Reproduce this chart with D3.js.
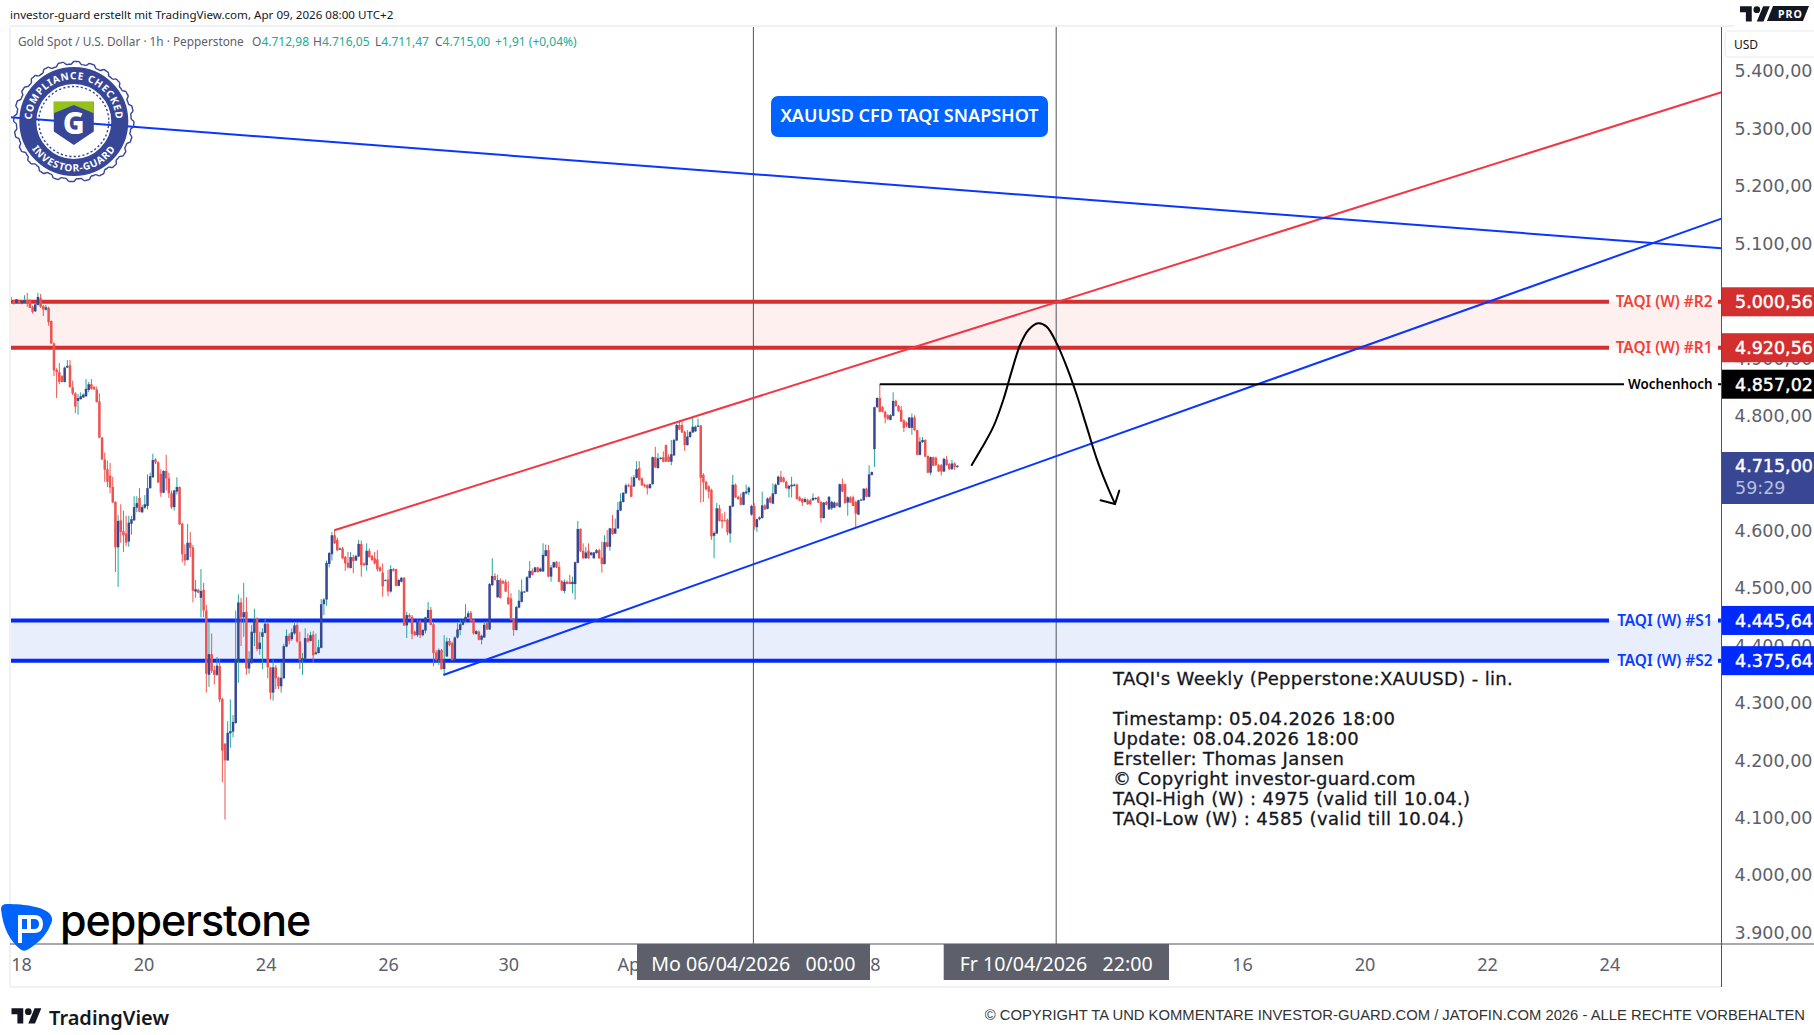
<!DOCTYPE html>
<html>
<head>
<meta charset="utf-8">
<title>XAUUSD</title>
<script src="https://cdn.jsdelivr.net/npm/d3@7"></script>
<style>
  html, body { margin: 0; padding: 0; background: #fff; }
  svg { display: block; }
  text { font-family: "Noto Sans", sans-serif; }
</style>
</head>
<body>
<div id="chart"></div>
<script>
// hourly candles, [open, high, low, close]
var candles = [
  [5000,5009,4999,5002],[5002,5004,4996,4998],[4998,5005,4997,5005],[5002,5004,4997,4998],[4998,5003,4996,5002],
  [4999,5012,4998,5003],[5004,5016,4992,4998],[5003,5005,4990,4990],[4992,4994,4980,4983],[4984,4998,4983,4996],
  [4995,5016,4994,5009],[5007,5014,4990,4992],[4993,4995,4976,4987],[4987,4995,4985,4991],[4990,4992,4959,4965],
  [4967,4968,4927,4928],[4928,4930,4871,4881],[4882,4885,4833,4878],[4878,4894,4857,4861],[4871,4873,4860,4861],
  [4861,4888,4860,4886],[4886,4899,4885,4889],[4890,4899,4851,4852],[4852,4863,4838,4841],[4841,4843,4807,4818],
  [4828,4840,4804,4833],[4831,4843,4830,4836],[4834,4841,4833,4839],[4836,4866,4835,4849],[4847,4861,4843,4857],
  [4857,4866,4848,4849],[4852,4854,4847,4848],[4848,4853,4825,4826],[4827,4841,4763,4764],[4764,4765,4725,4726],
  [4726,4738,4687,4708],[4709,4724,4678,4687],[4698,4720,4667,4677],[4678,4696,4650,4651],[4652,4653,4530,4573],
  [4573,4629,4504,4619],[4620,4648,4581,4600],[4601,4637,4565,4594],[4597,4628,4575,4581],[4583,4628,4574,4616],
  [4614,4628,4595,4622],[4620,4662,4619,4643],[4642,4662,4634,4650],[4659,4676,4634,4635],[4634,4647,4633,4643],
  [4642,4664,4640,4648],[4645,4700,4639,4676],[4676,4703,4675,4697],[4695,4736,4694,4725],[4726,4728,4718,4721],
  [4721,4723,4685,4686],[4701,4709,4661,4668],[4668,4707,4667,4706],[4706,4734,4672,4693],[4693,4703,4659,4667],
  [4667,4672,4640,4643],[4643,4673,4637,4672],[4670,4695,4665,4678],[4678,4679,4612,4613],[4614,4616,4547,4561],
  [4561,4578,4541,4550],[4551,4614,4550,4581],[4581,4600,4556,4572],[4573,4577,4477,4497],[4496,4516,4485,4500],
  [4499,4501,4493,4494],[4485,4535,4451,4497],[4499,4511,4451,4463],[4463,4473,4320,4353],[4351,4441,4330,4387],
  [4387,4423,4354,4358],[4359,4367,4334,4351],[4351,4382,4349,4367],[4366,4379,4303,4308],[4309,4311,4164,4219],
  [4231,4232,4099,4202],[4202,4270,4201,4250],[4249,4308,4224,4253],[4252,4281,4242,4269],[4267,4463,4266,4377],
  [4376,4491,4337,4477],[4477,4485,4401,4451],[4451,4511,4417,4460],[4461,4486,4351,4362],[4362,4392,4353,4373],
  [4372,4438,4370,4426],[4424,4466,4401,4448],[4449,4451,4392,4396],[4396,4426,4386,4407],[4417,4432,4361,4425],
  [4424,4449,4423,4440],[4440,4441,4345,4364],[4364,4365,4308,4320],[4320,4378,4306,4364],[4364,4368,4326,4345],
  [4346,4348,4326,4331],[4331,4373,4320,4346],[4345,4405,4344,4401],[4400,4430,4399,4419],[4419,4423,4404,4410],
  [4413,4432,4410,4425],[4423,4441,4421,4437],[4438,4441,4407,4409],[4409,4426,4361,4377],[4377,4389,4351,4380],
  [4379,4432,4378,4415],[4415,4423,4407,4409],[4410,4426,4409,4420],[4421,4427,4372,4385],[4387,4423,4386,4390],
  [4389,4412,4388,4399],[4398,4483,4397,4474],[4474,4485,4455,4482],[4482,4550,4471,4546],[4544,4565,4538,4563],
  [4561,4600,4550,4594],[4594,4603,4579,4580],[4586,4590,4566,4568],[4569,4573,4568,4571],[4571,4574,4552,4554],
  [4556,4558,4532,4545],[4546,4565,4536,4538],[4537,4565,4536,4556],[4556,4560,4528,4549],[4550,4560,4549,4558],
  [4557,4586,4556,4579],[4579,4585,4522,4542],[4545,4547,4540,4542],[4542,4580,4532,4567],[4567,4571,4555,4556],
  [4558,4560,4549,4551],[4554,4565,4543,4545],[4552,4568,4531,4535],[4538,4540,4530,4532],[4529,4545,4487,4505],
  [4515,4517,4514,4516],[4517,4534,4488,4496],[4496,4542,4494,4535],[4535,4537,4531,4532],[4535,4536,4505,4506],
  [4506,4518,4505,4516],[4513,4521,4512,4520],[4520,4521,4436,4437],[4437,4461,4415,4455],[4455,4458,4450,4451],
  [4452,4455,4413,4422],[4426,4428,4419,4420],[4420,4447,4417,4444],[4444,4447,4415,4420],[4420,4431,4418,4429],
  [4428,4452,4423,4451],[4450,4478,4449,4464],[4464,4469,4437,4438],[4439,4441,4366,4389],[4390,4394,4374,4377],
  [4377,4397,4368,4394],[4394,4396,4360,4361],[4361,4420,4351,4378],[4383,4416,4382,4409],[4410,4415,4401,4403],
  [4406,4409,4375,4377],[4377,4418,4376,4416],[4416,4441,4414,4430],[4429,4447,4420,4439],[4438,4447,4437,4445],
  [4444,4474,4443,4452],[4451,4462,4450,4458],[4459,4462,4443,4444],[4447,4448,4421,4423],[4422,4429,4421,4427],
  [4426,4428,4411,4412],[4412,4421,4404,4419],[4416,4444,4415,4438],[4441,4444,4429,4430],[4430,4511,4429,4509],
  [4507,4554,4506,4523],[4523,4528,4515,4516],[4486,4525,4485,4516],[4516,4519,4484,4485],[4514,4516,4509,4510],
  [4513,4517,4495,4496],[4486,4514,4473,4474],[4484,4493,4446,4447],[4448,4450,4419,4429],[4429,4471,4428,4469],
  [4468,4499,4467,4480],[4478,4517,4477,4496],[4495,4497,4494,4496],[4496,4523,4495,4521],[4520,4549,4519,4532],
  [4532,4536,4524,4525],[4530,4539,4529,4538],[4538,4539,4529,4530],[4531,4538,4530,4536],[4531,4580,4530,4560],
  [4558,4578,4557,4568],[4568,4577,4521,4522],[4522,4542,4513,4538],[4538,4548,4537,4547],[4548,4549,4537,4538],
  [4539,4548,4512,4513],[4514,4516,4497,4498],[4497,4517,4493,4513],[4513,4515,4509,4509],[4513,4525,4509,4509],
  [4509,4522,4493,4513],[4509,4548,4482,4547],[4546,4619,4545,4605],[4605,4606,4565,4566],[4567,4580,4553,4554],
  [4554,4574,4553,4564],[4567,4580,4553,4554],[4560,4565,4558,4564],[4554,4565,4553,4564],[4563,4570,4562,4568],
  [4568,4571,4553,4554],[4555,4583,4529,4544],[4544,4594,4543,4582],[4582,4603,4573,4574],[4574,4607,4567,4606],
  [4606,4629,4595,4596],[4597,4623,4596,4606],[4606,4652,4605,4638],[4637,4667,4636,4653],[4652,4669,4651,4668],
  [4667,4684,4666,4681],[4681,4684,4678,4679],[4681,4696,4660,4661],[4679,4699,4678,4695],[4694,4723,4693,4709],
  [4711,4723,4689,4690],[4693,4695,4680,4681],[4682,4684,4677,4679],[4681,4683,4665,4676],[4676,4684,4675,4683],
  [4683,4731,4682,4730],[4730,4748,4711,4712],[4711,4737,4710,4728],[4727,4730,4726,4729],[4730,4740,4721,4722],
  [4751,4752,4722,4722],[4731,4735,4722,4722],[4722,4760,4716,4735],[4733,4762,4732,4760],[4759,4788,4758,4786],
  [4786,4792,4777,4778],[4786,4792,4772,4773],[4774,4776,4741,4751],[4751,4777,4750,4766],[4765,4775,4764,4774],
  [4773,4799,4772,4783],[4775,4785,4774,4783],[4783,4797,4782,4785],[4785,4786,4651,4694],[4699,4702,4652,4686],
  [4687,4689,4672,4674],[4679,4681,4658,4670],[4673,4675,4586,4592],[4593,4601,4554,4598],[4597,4650,4596,4641],
  [4641,4647,4618,4619],[4621,4632,4606,4618],[4620,4635,4618,4619],[4621,4623,4594,4599],[4597,4646,4581,4645],
  [4644,4699,4643,4682],[4682,4684,4659,4660],[4661,4663,4656,4657],[4660,4667,4646,4647],[4647,4670,4646,4669],
  [4667,4682,4665,4670],[4669,4679,4664,4677],[4630,4647,4628,4645],[4645,4650,4603,4609],[4608,4623,4600,4622],
  [4622,4627,4620,4625],[4624,4670,4623,4646],[4646,4648,4638,4639],[4640,4660,4639,4658],[4660,4662,4650,4651],
  [4649,4684,4648,4667],[4666,4684,4665,4682],[4682,4698,4681,4696],[4696,4706,4686,4687],[4694,4696,4686,4687],
  [4687,4689,4675,4676],[4675,4682,4660,4680],[4679,4696,4660,4682],[4680,4684,4679,4682],[4682,4684,4656,4657],
  [4660,4662,4653,4654],[4657,4659,4645,4651],[4652,4660,4651,4657],[4655,4658,4647,4648],[4655,4657,4647,4648],
  [4655,4667,4654,4659],[4657,4660,4656,4659],[4660,4662,4650,4651],[4652,4654,4616,4624],[4624,4652,4623,4651],
  [4652,4654,4646,4647],[4639,4662,4638,4661],[4641,4654,4638,4652],[4642,4653,4641,4651],[4650,4652,4644,4645],
  [4643,4684,4642,4683],[4683,4693,4669,4670],[4683,4684,4649,4650],[4651,4662,4628,4660],[4660,4662,4650,4651],
  [4660,4663,4645,4645],[4652,4654,4608,4632],[4630,4656,4629,4655],[4655,4658,4654,4656],[4655,4676,4654,4675],
  [4675,4677,4660,4661],[4661,4716,4660,4700],[4699,4705,4698,4704],[4744,4818,4713,4817],[4817,4834,4816,4833],
  [4833,4857,4808,4809],[4817,4819,4808,4809],[4809,4811,4789,4799],[4803,4805,4795,4796],[4795,4805,4794,4803],
  [4802,4843,4801,4828],[4828,4830,4818,4819],[4819,4821,4809,4810],[4812,4819,4791,4792],[4794,4796,4774,4781],
  [4790,4792,4782,4785],[4781,4800,4780,4799],[4781,4806,4769,4799],[4799,4803,4776,4777],[4777,4778,4733,4734],
  [4734,4765,4733,4757],[4756,4765,4755,4760],[4760,4761,4730,4731],[4732,4733,4702,4703],[4703,4731,4699,4730],
  [4730,4731,4714,4715],[4729,4731,4715,4716],[4716,4718,4704,4705],[4716,4718,4698,4705],[4705,4729,4704,4727],
  [4726,4732,4715,4716],[4718,4720,4708,4709],[4709,4725,4708,4719],[4719,4721,4708,4713],[4713,4716,4711,4715]
];

var priceTicks = [5400, 5300, 5200, 5100, 4900, 4800, 4600, 4500, 4400, 4300, 4200, 4100, 4000, 3900];

// position along the bars, label
var timeTicks = [
  [3.7, '18'], [49.5, '20'], [95.2, '24'], [141, '26'], [186, '30'], [232.3, 'Apr'],
  [323.2, '8'], [460.5, '16'], [506.4, '20'], [552.2, '22'], [598, '24']
];

var crosshairs = [
  {at: 277.7, label: 'Mo 06/04/2026   00:00', left: 637, right: 870},
  {at: 391, label: 'Fr 10/04/2026   22:00', left: 943.7, right: 1169}
];

var zones = [
  {top: 5000.56, bottom: 4920.56, fill: '#fdf0ef'},
  {top: 4445.64, bottom: 4375.64, fill: '#e9eefc'}
];

var levels = [
  {price: 5000.56, name: 'TAQI (W) #R2', line: '#d32f2f', text: '#f2413a', tag: '#d32f2f', size: 15.4},
  {price: 4920.56, name: 'TAQI (W) #R1', line: '#d32f2f', text: '#f2413a', tag: '#d32f2f', size: 15.4},
  {price: 4445.64, name: 'TAQI (W) #S1', line: '#0029ff', text: '#0a3cff', tag: '#0029ff', size: 15.4},
  {price: 4375.64, name: 'TAQI (W) #S2', line: '#0029ff', text: '#0a3cff', tag: '#0029ff', size: 15.4}
];

var weekHigh = {price: 4857.02, from: 325, name: 'Wochenhoch', text: '#000', tag: '#000', size: 13.4};
var lastPrice = {price: 4715, countdown: '59:29'};

var trendLines = [
  {color: '#f23645', points: [[120.9, 4602.7], [639.9, 5365.3]]},
  {color: '#0a36ff', points: [[161.7, 4350.7], [639.9, 5145.3]]},
  {color: '#0a36ff', points: [[-0.5, 5321.8], [639.9, 5093.7]]}
];

// hand drawn forecast
var forecastPath = [
  [359.4, 4716.4], [363.1, 4745.4], [367.5, 4783.1], [371.2, 4829.6], [374.3, 4878.9], [377.5, 4925.3],
  [380.6, 4951.5], [384.3, 4963.1], [387.4, 4957.3], [391.2, 4928.2], [394.9, 4887.6], [398.7, 4838.3],
  [402.4, 4783.1], [406.1, 4728], [409.9, 4681.6], [413, 4648.5]
];
var forecastHead = [[407.6, 4654.9], [413, 4648.5], [414.6, 4671.7]];

var infoLines = [
  "TAQI's Weekly (Pepperstone:XAUUSD) - lin.",
  '',
  'Timestamp: 05.04.2026 18:00',
  'Update: 08.04.2026 18:00',
  'Ersteller: Thomas Jansen',
  '\u00a9 Copyright investor-guard.com',
  'TAQI-High (W) : 4975 (valid till 10.04.)',
  'TAQI-Low (W) : 4585 (valid till 10.04.)'
];

var legendValues = [
  {x: 252, key: 'O', value: '4.712,98'},
  {x: 313, key: 'H', value: '4.716,05'},
  {x: 375, key: 'L', value: '4.711,47'},
  {x: 435, key: 'C', value: '4.715,00'},
  {x: 495, key: '', value: '+1,91 (+0,04%)'}
];

var width = 1814, height = 1035;
var plotLeft = 10, plotRight = 1721.5, plotTop = 27, plotBottom = 944, frameBottom = 987;
var NAVY = '#384794', TEAL = '#26a69a', RED = '#ef5350', AXIS = '#50535e', TEXT = '#5d606b';
var WIDE_FONT = '"DejaVu Sans", sans-serif';

var svg = d3.select('#chart').append('svg').attr('width', width).attr('height', height);

var xScale = d3.scaleLinear().domain([0, candles.length - 1]).range([11.2, 957.3]);
var yScale = d3.scaleLinear().domain([3900, 5400]).range([933.8, 72.4]);

var priceFormat = d3.formatLocale({decimal: ',', thousands: '.', grouping: [3], currency: ['', '']}).format(',.2f');

svg.append('clipPath').attr('id', 'plot-clip').append('rect')
  .attr('x', plotLeft).attr('y', plotTop)
  .attr('width', plotRight - plotLeft).attr('height', plotBottom - plotTop);

var plot = svg.append('g').attr('clip-path', 'url(#plot-clip)');

// frame
var frame = svg.append('g').attr('stroke', '#f0f1f4').attr('stroke-width', 2);
frame.append('line').attr('x1', plotLeft).attr('x2', plotLeft).attr('y1', plotTop).attr('y2', frameBottom);
frame.append('line').attr('x1', plotLeft).attr('x2', 1734).attr('y1', plotTop - 1).attr('y2', plotTop - 1);
frame.append('line').attr('x1', plotLeft).attr('x2', plotRight).attr('y1', frameBottom).attr('y2', frameBottom);

// support and resistance zones
plot.selectAll('.zone').data(zones).enter().append('rect')
  .attr('class', 'zone')
  .attr('x', plotLeft)
  .attr('width', plotRight - plotLeft)
  .attr('y', function (d) { return yScale(d.top); })
  .attr('height', function (d) { return yScale(d.bottom) - yScale(d.top); })
  .attr('fill', function (d) { return d.fill; });

// crosshair lines
plot.selectAll('.cross').data(crosshairs).enter().append('line')
  .attr('class', 'cross')
  .attr('x1', function (d) { return xScale(d.at); })
  .attr('x2', function (d) { return xScale(d.at); })
  .attr('y1', plotTop).attr('y2', plotBottom)
  .attr('stroke', AXIS).attr('stroke-width', 1);

// level lines, broken around the label
var levelLine = plot.selectAll('.level').data(levels).enter().append('g').attr('class', 'level');
levelLine.append('line')
  .attr('x1', plotLeft).attr('x2', 1609)
  .attr('y1', function (d) { return yScale(d.price); })
  .attr('y2', function (d) { return yScale(d.price); })
  .attr('stroke', function (d) { return d.line; }).attr('stroke-width', 4);
levelLine.append('line')
  .attr('x1', 1718).attr('x2', plotRight)
  .attr('y1', function (d) { return yScale(d.price); })
  .attr('y2', function (d) { return yScale(d.price); })
  .attr('stroke', function (d) { return d.line; }).attr('stroke-width', 4);

// candles
var candle = plot.selectAll('.candle').data(candles).enter().append('g').attr('class', 'candle');
candle.append('line')
  .attr('x1', function (d, i) { return xScale(i); })
  .attr('x2', function (d, i) { return xScale(i); })
  .attr('y1', function (d) { return yScale(d[1]); })
  .attr('y2', function (d) { return yScale(d[2]); })
  .attr('stroke', function (d) { return d[3] >= d[0] ? TEAL : RED; })
  .attr('stroke-width', 1);
candle.append('rect')
  .attr('x', function (d, i) { return xScale(i) - 1.25; })
  .attr('width', 2.5)
  .attr('y', function (d) { return yScale(Math.max(d[0], d[3])); })
  .attr('height', function (d) { return Math.max(1, Math.abs(yScale(d[0]) - yScale(d[3]))); })
  .attr('fill', function (d) { return d[3] >= d[0] ? NAVY : RED; });

// trend lines
var lineGen = d3.line()
  .x(function (d) { return xScale(d[0]); })
  .y(function (d) { return yScale(d[1]); });

plot.selectAll('.trend').data(trendLines).enter().append('path')
  .attr('class', 'trend')
  .attr('d', function (d) { return lineGen(d.points); })
  .attr('fill', 'none')
  .attr('stroke', function (d) { return d.color; })
  .attr('stroke-width', 2);

// week high
plot.append('line')
  .attr('x1', xScale(weekHigh.from)).attr('x2', 1624)
  .attr('y1', yScale(weekHigh.price)).attr('y2', yScale(weekHigh.price))
  .attr('stroke', '#000').attr('stroke-width', 2);
plot.append('line')
  .attr('x1', 1718).attr('x2', plotRight)
  .attr('y1', yScale(weekHigh.price)).attr('y2', yScale(weekHigh.price))
  .attr('stroke', '#000').attr('stroke-width', 2);

// forecast arrow
plot.append('path')
  .attr('d', lineGen.curve(d3.curveCatmullRom)(forecastPath))
  .attr('fill', 'none').attr('stroke', '#000').attr('stroke-width', 2).attr('stroke-linecap', 'round');
plot.append('path')
  .attr('d', lineGen.curve(d3.curveLinear)(forecastHead))
  .attr('fill', 'none').attr('stroke', '#000').attr('stroke-width', 2).attr('stroke-linecap', 'round');

// axes
var priceAxis = svg.append('g')
  .attr('transform', 'translate(' + plotRight + ',0)')
  .call(d3.axisRight(yScale).tickValues(priceTicks).tickFormat(priceFormat).tickSize(0).tickPadding(13));
priceAxis.select('.domain').remove();
priceAxis.selectAll('text')
  .attr('fill', TEXT)
  .attr('dy', '0.26em')
  .style('font-family', WIDE_FONT)
  .style('font-size', '17.5px');

var timeAxis = svg.append('g')
  .attr('transform', 'translate(0,' + plotBottom + ')')
  .call(d3.axisBottom(xScale)
    .tickValues(timeTicks.map(function (d) { return d[0]; }))
    .tickFormat(function (d, i) { return timeTicks[i][1]; })
    .tickSize(0).tickPadding(14));
timeAxis.select('.domain').remove();
timeAxis.selectAll('text').attr('fill', TEXT).style('font-size', '18px');

svg.append('line').attr('x1', plotLeft).attr('x2', width).attr('y1', plotBottom).attr('y2', plotBottom)
  .attr('stroke', AXIS).attr('stroke-width', 1);
svg.append('line').attr('x1', plotRight).attr('x2', plotRight).attr('y1', plotTop).attr('y2', frameBottom)
  .attr('stroke', AXIS).attr('stroke-width', 1);

// USD box
svg.append('rect').attr('x', 1725).attr('y', 31).attr('width', 100).attr('height', 26).attr('rx', 4)
  .attr('fill', '#fff').attr('stroke', '#f0f1f4').attr('stroke-width', 1.5);
svg.append('text').attr('x', 1734).attr('y', 49).attr('font-size', 12).attr('fill', '#131722').text('USD');

// level labels and price tags
var tagData = levels.concat([weekHigh]);

svg.selectAll('.level-label').data(tagData).enter().append('text')
  .attr('class', 'level-label')
  .attr('x', 1712.5)
  .attr('y', function (d) { return yScale(d.price) + d.size * 0.36; })
  .attr('text-anchor', 'end')
  .attr('font-size', function (d) { return d.size; })
  .attr('font-weight', 600)
  .attr('fill', function (d) { return d.text; })
  .text(function (d) { return d.name; });

svg.selectAll('.tag').data(tagData).enter().append('rect')
  .attr('class', 'tag')
  .attr('x', plotRight + 0.5).attr('width', width - plotRight)
  .attr('y', function (d) { return yScale(d.price) - 14.5; })
  .attr('height', 29)
  .attr('fill', function (d) { return d.tag; });

svg.selectAll('.tag-text').data(tagData).enter().append('text')
  .attr('class', 'tag-text')
  .attr('x', 1735)
  .attr('y', function (d) { return yScale(d.price) + 6.5; })
  .attr('fill', '#fff')
  .attr('stroke', '#fff')
  .attr('stroke-width', 0.45)
  .attr('font-size', 17.5)
  .style('font-family', WIDE_FONT)
  .text(function (d) { return priceFormat(d.price); });

// last price tag with countdown
svg.append('rect').attr('x', plotRight + 0.5).attr('y', 452).attr('width', width - plotRight).attr('height', 52).attr('fill', NAVY);
svg.append('text').attr('x', 1735).attr('y', yScale(lastPrice.price) + 6.5)
  .attr('fill', '#fff').attr('stroke', '#fff').attr('stroke-width', 0.45).attr('font-size', 17.5)
  .style('font-family', WIDE_FONT)
  .text(priceFormat(lastPrice.price));
svg.append('text').attr('x', 1735).attr('y', 494)
  .attr('fill', '#b9bedd').attr('font-size', 17.5)
  .style('font-family', WIDE_FONT)
  .text(lastPrice.countdown);

// crosshair time tags
var crossTag = svg.selectAll('.cross-tag').data(crosshairs).enter().append('g').attr('class', 'cross-tag');
crossTag.append('rect')
  .attr('x', function (d) { return d.left; })
  .attr('width', function (d) { return d.right - d.left; })
  .attr('y', plotBottom).attr('height', 36)
  .attr('fill', '#5d606b');
crossTag.append('text')
  .attr('x', function (d) { return xScale(d.at); })
  .attr('y', 971)
  .attr('text-anchor', 'middle')
  .attr('fill', '#fff')
  .attr('font-size', 19.6)
  .style('white-space', 'pre')
  .text(function (d) { return d.label; });

// header and legend
svg.append('text').attr('x', 10).attr('y', 19).attr('font-size', 11.6).attr('fill', '#131722')
  .text('investor-guard erstellt mit TradingView.com, Apr 09, 2026 08:00 UTC+2');
svg.append('text').attr('x', 18).attr('y', 46).attr('font-size', 11.8).attr('fill', TEXT)
  .text('Gold Spot / U.S. Dollar \u00b7 1h \u00b7 Pepperstone');

var legend = svg.selectAll('.legend').data(legendValues).enter().append('text')
  .attr('class', 'legend')
  .attr('x', function (d) { return d.x; })
  .attr('y', 46)
  .attr('font-size', 12);
legend.append('tspan').attr('fill', TEXT).text(function (d) { return d.key; });
legend.append('tspan').attr('fill', '#22ab94').text(function (d) { return d.value; });

// snapshot badge
svg.append('rect').attr('x', 771).attr('y', 96).attr('width', 277).attr('height', 41).attr('rx', 7).attr('fill', '#0062ff');
svg.append('text').attr('x', 909.5).attr('y', 121.5).attr('text-anchor', 'middle')
  .attr('fill', '#fff').attr('font-size', 18).attr('font-weight', 600)
  .text('XAUUSD CFD TAQI SNAPSHOT');

// info block
svg.append('g').selectAll('text').data(infoLines).enter().append('text')
  .attr('x', 1113)
  .attr('y', function (d, i) { return 684.5 + i * 20; })
  .attr('font-size', 18)
  .attr('letter-spacing', 0.35)
  .attr('stroke', '#131722')
  .attr('stroke-width', 0.3)
  .attr('fill', '#131722')
  .style('font-family', WIDE_FONT)
  .text(function (d) { return d; });

// compliance seal
var sealNavy = '#374696';
var seal = svg.append('g').attr('transform', 'translate(73.8,121.5)');
var scallop = d3.lineRadial().curve(d3.curveCardinalClosed)
  .angle(function (d) { return d / 144 * 2 * Math.PI; })
  .radius(function (d) { return 58.5 + (d % 6 < 3 ? 1.5 : -1); });
seal.append('path').attr('d', scallop(d3.range(144))).attr('fill', 'none').attr('stroke', sealNavy).attr('stroke-width', 1.4);
seal.append('circle').attr('r', 46).attr('fill', 'none').attr('stroke', sealNavy).attr('stroke-width', 17);
seal.append('circle').attr('r', 35).attr('fill', 'none').attr('stroke', sealNavy).attr('stroke-width', 1.4).attr('stroke-dasharray', '2.2 2.2');
seal.append('path').attr('id', 'seal-top').attr('fill', 'none').attr('stroke', 'none')
  .attr('d', 'M -41.6 7 A 42.2 42.2 0 1 1 41.6 7');
seal.append('path').attr('id', 'seal-bottom').attr('fill', 'none').attr('stroke', 'none')
  .attr('d', 'M -48 14 A 50 50 0 0 0 48 14');
seal.append('text').attr('fill', '#fff').attr('font-size', 10).attr('font-weight', 700).attr('letter-spacing', 0.8)
  .append('textPath').attr('href', '#seal-top').attr('startOffset', '50%').attr('text-anchor', 'middle').text('COMPLIANCE CHECKED');
seal.append('text').attr('fill', '#fff').attr('font-size', 10).attr('font-weight', 700).attr('letter-spacing', 0.8)
  .append('textPath').attr('href', '#seal-bottom').attr('startOffset', '50%').attr('text-anchor', 'middle').text('INVESTOR-GUARD');
seal.append('path').attr('d', 'M -20 -19.8 L 20 -19.8 L 20 10 L 0 23.5 L -20 10 Z').attr('fill', sealNavy);
seal.append('path').attr('d', 'M -20 -19.8 L 20 -19.8 L 20 -8.2 L 0 -16.5 L -20 -8.2 Z').attr('fill', '#95c11f');
seal.append('text').attr('y', 12.5).attr('text-anchor', 'middle').attr('fill', '#fff').attr('font-size', 30).attr('font-weight', 800).text('G');

// broker logo
var pepper = svg.append('g');
pepper.append('path')
  .attr('d', 'M 1 909 Q 1 904 7 904 C 25 904 44 907 50 914 Q 54 919 50 926 C 46 936 36 945 27 950 Q 23 952 20 949 C 10 941 3 928 1 909 Z')
  .attr('fill', '#0064fa');
pepper.append('path')
  .attr('d', 'M 20 943 L 20 917 L 34 917 Q 41 917 41 924 Q 41 931 34 931 L 20 931 M 29 917 L 29 931')
  .attr('fill', 'none').attr('stroke', '#fff').attr('stroke-width', 4);
svg.append('text').attr('x', 60).attr('y', 936).attr('font-size', 43).attr('font-weight', 500).attr('fill', '#000')
  .style('font-family', 'Inter, sans-serif').attr('letter-spacing', -1).text('pepperstone');

// TradingView marks
var tvMark = 'M14 22H7V11H0V4h14v18zM28 22h-8l7.5-18h8L28 22z';
var tvBottom = svg.append('g').attr('transform', 'translate(11.5,1005) scale(0.84)');
tvBottom.append('path').attr('d', tvMark).attr('fill', '#131722');
tvBottom.append('circle').attr('cx', 20).attr('cy', 8).attr('r', 4).attr('fill', '#131722');
svg.append('text').attr('x', 49).attr('y', 1025).attr('font-size', 20).attr('font-weight', 600).attr('fill', '#131722').text('TradingView');

var tvTop = svg.append('g').attr('transform', 'translate(1740,3) scale(0.84)');
tvTop.append('path').attr('d', tvMark).attr('fill', '#131722');
tvTop.append('circle').attr('cx', 20).attr('cy', 8).attr('r', 4).attr('fill', '#131722');
svg.append('path').attr('d', 'M 1773 6 L 1809 6 L 1803 21 L 1767 21 Z').attr('fill', '#131722');
svg.append('text').attr('x', 1778).attr('y', 18).attr('font-size', 10.5).attr('font-weight', 700).attr('letter-spacing', 1).attr('fill', '#fff').text('PRO');

// copyright
svg.append('text').attr('x', 1805).attr('y', 1020).attr('text-anchor', 'end').attr('font-size', 14.8).attr('fill', '#333')
  .style('font-family', '"Liberation Sans", sans-serif')
  .text('\u00a9 COPYRIGHT TA UND KOMMENTARE INVESTOR-GUARD.COM / JATOFIN.COM 2026 - ALLE RECHTE VORBEHALTEN');
</script>
</body>
</html>
